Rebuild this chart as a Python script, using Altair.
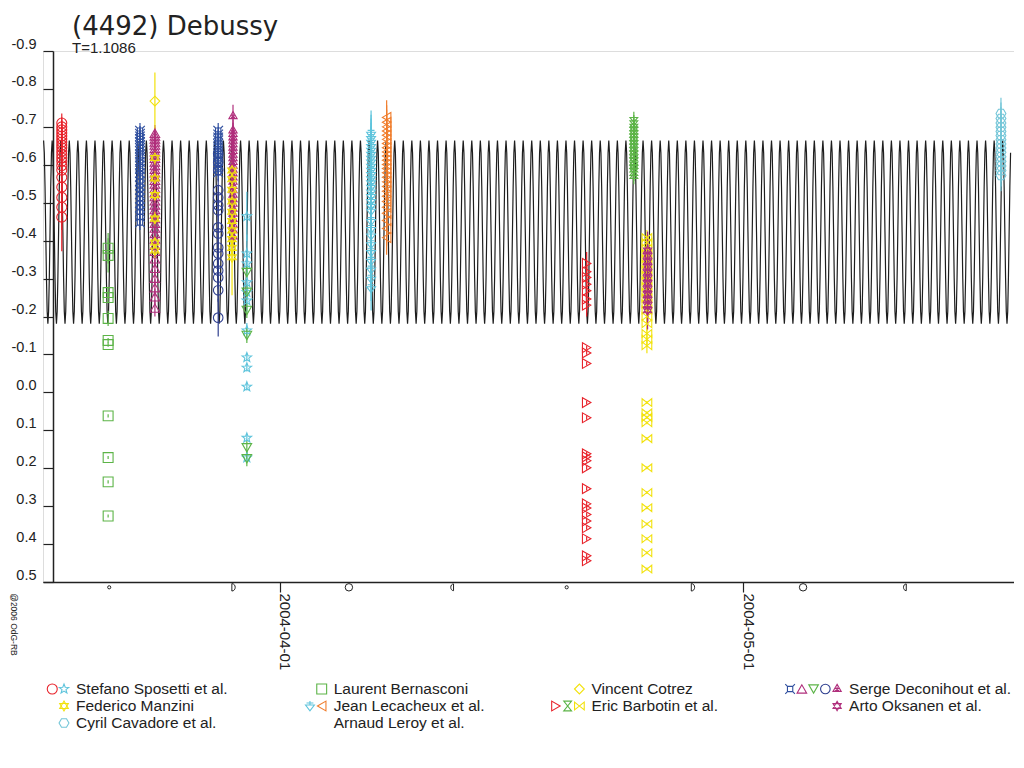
import math
import pandas as pd
import altair as alt

TITLE = "(4492) Debussy"
SUBTITLE = "T=1.1086"
COPYRIGHT = "@2006 OdG-RB"

# ---------------- series (observer / symbol) ----------------
series_ids = ["sposetti_circle", "sposetti_star", "manzini", "cavadore", "bernasconi",
              "lecacheux_cyan", "lecacheux_orange", "cotrez", "barbotin_red", "barbotin_green",
              "barbotin_yellow", "deco_blue_hash", "deco_mag_tri", "deco_green_tri",
              "deco_blue_circle", "deco_mag_startri", "oksanen"]
series_colors = ["#e8232b", "#5ec4dc", "#f2e20c", "#74c6d8", "#5cb447",
                 "#5ec4dc", "#f07d2c", "#f2e20c", "#e8232b", "#5cb447",
                 "#f2e20c", "#2f4f9f", "#b02f7c", "#5cb447",
                 "#2f3f8f", "#b02f7c", "#b02f7c"]


def polygon(n, rot):
    pts = []
    for k in range(n):
        a = math.radians(rot + 360.0 * k / n)
        pts.append(f"{math.cos(a):.3f},{math.sin(a):.3f}")
    return "M" + " L".join(pts) + " Z"


def star(n, inner):
    pts = []
    for k in range(2 * n):
        r = 1.0 if k % 2 == 0 else inner
        a = math.radians(-90 + 180.0 * k / n)
        pts.append(f"{r * math.cos(a):.3f},{r * math.sin(a):.3f}")
    return "M" + " L".join(pts) + " Z"


STAR5 = star(5, 0.42)
HEXAGRAM = polygon(3, -90) + " " + polygon(3, 90)
HEXAGON = polygon(6, 0)
HASHBOX = ("M-0.55,-0.55 L0.55,-0.55 L0.55,0.55 L-0.55,0.55 Z "
           "M-1,-1 L-0.55,-0.55 M1,-1 L0.55,-0.55 M1,1 L0.55,0.55 M-1,1 L-0.55,0.55")
TRI_STAR = polygon(3, -90) + " M0,-0.45 L0,0.45 M-0.4,-0.15 L0.4,0.3 M0.4,-0.15 L-0.4,0.3"
HOURGLASS = "M-0.8,-1 L0.8,-1 L-0.8,1 L0.8,1 Z"
BOWTIE = "M-1,-0.8 L1,0.8 L1,-0.8 L-1,0.8 Z"
TRI_DOWN_BAR = "M-0.9,-0.2 L0.9,-0.2 L0,1 Z M0,-1 L0,-0.2 M-0.7,-0.6 L0.7,-0.6"

series_shapes = ["circle", STAR5, HEXAGRAM, HEXAGON, "square",
                 TRI_DOWN_BAR, "triangle-left", "diamond", "triangle-right", HOURGLASS,
                 BOWTIE, HASHBOX, "triangle-up", "triangle-down",
                 "circle", TRI_STAR, HEXAGRAM]
series_sizes = [100, 90, 80, 80, 45,
                80, 60, 100, 70, 64,
                70, 64, 70, 70,
                85, 80, 75]

# ---------------- observations (date, magnitudes, errors) ----------------
sposetti_circle_time = "2004-03-17T21:00"
sposetti_circle_mag = [-0.710, -0.700, -0.692, -0.684, -0.676, -0.668, -0.660, -0.652, -0.645, -0.636,
                       -0.627, -0.618, -0.609, -0.598, -0.586, -0.567, -0.541, -0.514, -0.488, -0.462]
sposetti_circle_err = [0.025] * 17 + [0.05, 0.06, 0.09]

bernasconi_time = "2004-03-20T21:00"
bernasconi_mag = [-0.380, -0.361, -0.263, -0.250, -0.195, -0.137, -0.126, 0.062, 0.172, 0.236, 0.326]
bernasconi_err = [0.04, 0.045, 0.012, 0.012, 0.02, 0.006, 0.006, 0.004, 0.004, 0.004, 0.004]

deco_hash1_time = "2004-03-22T22:30"
deco_hash1_mag = [-0.690, -0.682, -0.675, -0.668, -0.660, -0.651, -0.644, -0.636, -0.627, -0.619,
                  -0.608, -0.598, -0.589, -0.578, -0.569, -0.556, -0.545, -0.534, -0.523, -0.511,
                  -0.499, -0.488, -0.476, -0.463, -0.448]
deco_hash1_err = 0.02

deco_tri_time = "2004-03-23T21:40"
deco_tri_mag = [-0.683, -0.676, -0.668, -0.660, -0.652, -0.643, -0.634, -0.626, -0.617, -0.607,
                -0.598, -0.588, -0.579, -0.569, -0.559, -0.549, -0.538, -0.527, -0.516, -0.505,
                -0.494, -0.482, -0.470, -0.458, -0.446, -0.433, -0.419, -0.404, -0.388, -0.372,
                -0.352, -0.327, -0.301, -0.276, -0.252, -0.222]
deco_tri_err = 0.022

manzini1_time = "2004-03-23T21:40"
manzini1_mag = [-0.618, -0.564, -0.520, -0.458, -0.395, -0.374]
manzini1_err = 0.02

cotrez_time = "2004-03-23T21:40"
cotrez_mag = [-0.768]
cotrez_err = 0.075

deco_circle_time = "2004-03-28T00:00"
deco_circle_mag = [-0.630, -0.607, -0.586, -0.533, -0.514, -0.493, -0.480, -0.435, -0.419, -0.382,
                   -0.366, -0.340, -0.321, -0.303, -0.269, -0.197]
deco_circle_err = [0.03] * 15 + [0.05]

deco_hash2_time = "2004-03-28T00:00"
deco_hash2_mag = [-0.690, -0.680, -0.672, -0.664, -0.655, -0.646, -0.637, -0.628, -0.619, -0.610,
                  -0.600, -0.590, -0.580]
deco_hash2_err = 0.02

deco_startri_time = "2004-03-28T23:00"
deco_startri_mag = [-0.728, -0.690, -0.681, -0.672, -0.663, -0.654, -0.645, -0.636, -0.626, -0.617,
                    -0.607, -0.597, -0.587, -0.577, -0.566, -0.555, -0.544, -0.533, -0.521, -0.509,
                    -0.497, -0.484, -0.471, -0.457, -0.442, -0.427, -0.411]
deco_startri_err = 0.03

manzini2_time = "2004-03-28T21:30"
manzini2_mag = [-0.585, -0.562, -0.534, -0.503, -0.476, -0.452, -0.427, -0.404, -0.381, -0.356]
manzini2_err = [0.03] * 9 + [0.1]

sposetti_star_time = "2004-03-29T20:30"
sposetti_star_mag = [-0.464, -0.366, -0.340, -0.290, -0.264, -0.242, -0.163, -0.092, -0.065, -0.015,
                     0.120, 0.172]
sposetti_star_err = [0.065, 0.05, 0.03, 0.03, 0.03, 0.03, 0.02, 0.01, 0.01, 0.01, 0.008, 0.008]

deco_green_time = "2004-03-29T20:30"
deco_green_mag = [-0.316, -0.264, -0.216, -0.150, 0.146, 0.175]
deco_green_err = 0.02

lecacheux_cyan_time = "2004-04-06T21:30"
lecacheux_cyan_mag = [-0.683, -0.672, -0.662, -0.651, -0.641, -0.630, -0.620, -0.610, -0.599, -0.588,
                      -0.577, -0.566, -0.555, -0.543, -0.531, -0.519, -0.506, -0.493, -0.480, -0.453,
                      -0.432, -0.415, -0.392, -0.371, -0.348, -0.325, -0.301, -0.276]
lecacheux_cyan_err = 0.06

lecacheux_orange_time = "2004-04-07T21:40"
lecacheux_orange_mag = [-0.725, -0.712, -0.700, -0.689, -0.678, -0.667, -0.656, -0.645, -0.634, -0.623,
                        -0.612, -0.601, -0.590, -0.579, -0.567, -0.555, -0.543, -0.530, -0.517, -0.503,
                        -0.488, -0.472, -0.453, -0.432, -0.408]
lecacheux_orange_err = 0.045

barbotin_red_time = "2004-04-20T20:24"
barbotin_red_mag = [-0.340, -0.318, -0.303, -0.285, -0.268, -0.246, -0.230, -0.118, -0.104, -0.076,
                    0.027, 0.067, 0.162, 0.170, 0.180, 0.199, 0.254, 0.294, 0.305, 0.322,
                    0.339, 0.357, 0.386, 0.431, 0.444]
barbotin_red_err = [0.03] * 7 + [0.005] * 18

barbotin_green_time = "2004-04-23T21:40"
barbotin_green_mag = [-0.712, -0.703, -0.694, -0.686, -0.677, -0.668, -0.659, -0.650, -0.641, -0.632,
                      -0.623, -0.613, -0.604, -0.594, -0.585, -0.577]
barbotin_green_err = 0.028

barbotin_yellow_time = "2004-04-24T18:00"
barbotin_yellow_mag = [-0.408, -0.395, -0.380, -0.366, -0.352, -0.338, -0.323, -0.309, -0.294, -0.279,
                       -0.264, -0.249, -0.233, -0.217, -0.200, -0.181, -0.155, -0.140, -0.123, 0.027,
                       0.054, 0.066, 0.080, 0.122, 0.199, 0.264, 0.304, 0.347, 0.386, 0.423, 0.466]
barbotin_yellow_err = [0.02] * 19 + [0.004] * 12

oksanen_time = "2004-04-24T19:00"
oksanen_mag = [-0.374, -0.360, -0.345, -0.331, -0.316, -0.301, -0.287, -0.272, -0.258, -0.244,
               -0.230, -0.216]
oksanen_err = 0.05

cavadore_time = "2004-05-17T16:00"
cavadore_mag = [-0.735, -0.722, -0.710, -0.699, -0.688, -0.677, -0.666, -0.655, -0.644, -0.633,
                -0.621, -0.609, -0.597, -0.585, -0.572]
cavadore_err = 0.042

observations = [
    ("sposetti_circle", sposetti_circle_time, sposetti_circle_mag, sposetti_circle_err),
    ("bernasconi", bernasconi_time, bernasconi_mag, bernasconi_err),
    ("deco_blue_hash", deco_hash1_time, deco_hash1_mag, deco_hash1_err),
    ("deco_mag_tri", deco_tri_time, deco_tri_mag, deco_tri_err),
    ("manzini", manzini1_time, manzini1_mag, manzini1_err),
    ("cotrez", cotrez_time, cotrez_mag, cotrez_err),
    ("deco_blue_circle", deco_circle_time, deco_circle_mag, deco_circle_err),
    ("deco_blue_hash", deco_hash2_time, deco_hash2_mag, deco_hash2_err),
    ("deco_mag_startri", deco_startri_time, deco_startri_mag, deco_startri_err),
    ("manzini", manzini2_time, manzini2_mag, manzini2_err),
    ("sposetti_star", sposetti_star_time, sposetti_star_mag, sposetti_star_err),
    ("deco_green_tri", deco_green_time, deco_green_mag, deco_green_err),
    ("lecacheux_cyan", lecacheux_cyan_time, lecacheux_cyan_mag, lecacheux_cyan_err),
    ("lecacheux_orange", lecacheux_orange_time, lecacheux_orange_mag, lecacheux_orange_err),
    ("barbotin_red", barbotin_red_time, barbotin_red_mag, barbotin_red_err),
    ("barbotin_green", barbotin_green_time, barbotin_green_mag, barbotin_green_err),
    ("barbotin_yellow", barbotin_yellow_time, barbotin_yellow_mag, barbotin_yellow_err),
    ("oksanen", oksanen_time, oksanen_mag, oksanen_err),
    ("cavadore", cavadore_time, cavadore_mag, cavadore_err),
]

rows = []
for sid, t, mags, errs in observations:
    if not isinstance(errs, list):
        errs = [errs] * len(mags)
    for m, e in zip(mags, errs):
        rows.append({"series": sid, "time": t, "mag": m, "lo": m - e, "hi": m + e})
obs_df = pd.DataFrame(rows)

# ---------------- model lightcurve (period T, read profile of one half period) ----------------
model_period = 1.1086  # days
model_epoch = "2004-04-08T23:30"
model_profile = [-0.664, -0.632, -0.543, -0.423, -0.302, -0.213, -0.181, -0.213, -0.302, -0.423, -0.543, -0.632]

x_start = pd.Timestamp("2004-03-16T15:50")
x_end = pd.Timestamp("2004-05-18T12:15")
curve_end = pd.Timestamp("2004-05-18T08:00")
epoch = pd.Timestamp(model_epoch)
step_days = model_period / 2 / len(model_profile)
k0 = math.floor((x_start - epoch).total_seconds() / 86400 / step_days)
k1 = math.ceil((curve_end - epoch).total_seconds() / 86400 / step_days)
curve_rows = []
for k in range(k0, k1 + 1):
    t = epoch + pd.Timedelta(days=k * step_days)
    if x_start <= t <= curve_end:
        curve_rows.append({"time": t.strftime("%Y-%m-%dT%H:%M:%S"),
                           "mag": model_profile[k % len(model_profile)]})
curve_df = pd.DataFrame(curve_rows)

# ---------------- moon phases ----------------
new_moons = ["2004-03-20T22:41", "2004-04-19T13:21"]
first_quarters = ["2004-03-28T23:48", "2004-04-27T17:32"]
full_moons = ["2004-04-05T11:03", "2004-05-04T20:33"]
last_quarters = ["2004-04-12T03:46", "2004-05-11T11:04"]
MOON_ROW = 0.514

# ---------------- legend ----------------
legend_labels = ["Stefano Sposetti et al.", "Federico Manzini", "Cyril Cavadore et al.",
                 "Laurent Bernasconi", "Jean Lecacheux et al.", "Arnaud Leroy et al.",
                 "Vincent Cotrez", "Eric Barbotin et al.",
                 "Serge Deconihout et al.", "Arto Oksanen et al."]
legend_col = [0, 0, 0, 1, 1, 1, 2, 2, 3, 3]
legend_row = [0, 1, 2, 0, 1, 2, 0, 1, 0, 1]
legend_symbols = [["sposetti_circle", "sposetti_star"], ["manzini"], ["cavadore"],
                  ["bernasconi"], ["lecacheux_cyan", "lecacheux_orange"], [],
                  ["cotrez"], ["barbotin_red", "barbotin_green", "barbotin_yellow"],
                  ["deco_blue_hash", "deco_mag_tri", "deco_green_tri", "deco_blue_circle", "deco_mag_startri"],
                  ["oksanen"]]

leg_text_df = pd.DataFrame({"label": legend_labels, "col": legend_col, "row": legend_row})
sym_rows = []
for lab, c, r, syms in zip(legend_labels, legend_col, legend_row, legend_symbols):
    n = len(syms)
    for j, s in enumerate(syms):
        sym_rows.append({"series": s, "col": c, "row": r, "slot": n - 1 - j})
leg_sym_df = pd.DataFrame(sym_rows)

# legend layout (pixels): column spacing and symbol spacing
LEG_COL_PX = 257.7
LEG_SYM_GAP = 12.0
LEG_SYM_STEP = 11.75

# ---------------- scales & axes ----------------
FONT = "Liberation Sans"
INK = "#222222"

x_scale = alt.Scale(domain=[alt.DateTime(year=2004, month=3, date=16, hours=15, minutes=50),
                            alt.DateTime(year=2004, month=5, date=18, hours=12, minutes=15)])
y_scale = alt.Scale(domain=[-0.9, 0.5], reverse=True, zero=False, nice=False)

y_ticks = [round(-0.9 + 0.1 * i, 1) for i in range(15)]

x_axis = alt.Axis(values=[alt.DateTime(year=2004, month=4, date=1), alt.DateTime(year=2004, month=5, date=1)],
                  format="%Y-%m-%d", labelAngle=90, labelAlign="left", labelBaseline="alphabetic",
                  labelPadding=1, labelFontSize=15, labelFont=FONT, labelColor=INK,
                  tickSize=10, tickColor=INK, tickWidth=1.2, domainColor=INK, domainWidth=1.5,
                  grid=False, title=None, labelOverlap=False, labelFlush=False)
y_axis = alt.Axis(values=y_ticks, labelExpr="replace(format(datum.value, '.1f'), '\u2212', '-')",
                  offset=-10, tickSize=10, tickColor=INK, tickWidth=1.2, domainColor=INK, domainWidth=1.5,
                  labelPadding=7, labelFontSize=14.5, labelFont=FONT, labelColor=INK,
                  labelBaseline="alphabetic", labelOffset=-3, grid=False,
                  labelOverlap=False, labelFlush=False,
                  title=COPYRIGHT, titleAngle=90, titleX=-40, titleY=573, titleFontSize=8.5,
                  titleFont=FONT, titleFontWeight="normal", titleColor=INK,
                  titleAlign="center", titleBaseline="middle")

X = alt.X("time:T", scale=x_scale, axis=x_axis)
Y = alt.Y("mag:Q", scale=y_scale, axis=y_axis)
color_enc = alt.Color("series:N", scale=alt.Scale(domain=series_ids, range=series_colors), legend=None)
shape_enc = alt.Shape("series:N", scale=alt.Scale(domain=series_ids, range=series_shapes), legend=None)
size_enc = alt.Size("series:N", scale=alt.Scale(domain=series_ids, range=series_sizes), legend=None)

curve = alt.Chart(curve_df).mark_line(color="#1e1e1e", strokeWidth=1.2).encode(x=X, y=Y)

moon_layers = []
for times, shape, size in [
    (new_moons, "circle", 10),
    (first_quarters, "M-0.45,-1 L-0.45,1 C0.75,1 0.75,-1 -0.45,-1 Z", 55),
    (full_moons, "circle", 55),
    (last_quarters, "M0.35,-1 L0.35,1 C-0.75,1 -0.75,-1 0.35,-1 Z", 45),
]:
    moon_layers.append(
        alt.Chart(pd.DataFrame({"time": times})).mark_point(
            shape=shape, size=size, filled=False, color=INK, strokeWidth=1, opacity=1
        ).encode(x=X, y=alt.Y(datum=MOON_ROW, scale=y_scale, axis=y_axis))
    )

errbars = alt.Chart(obs_df).mark_rule(strokeWidth=1.2).encode(
    x=X, y=alt.Y("lo:Q", scale=y_scale, axis=y_axis), y2="hi:Q", color=color_enc)

points = alt.Chart(obs_df).mark_point(filled=False, strokeWidth=1.1, opacity=1).encode(
    x=X, y=Y, color=color_enc, shape=shape_enc, size=size_enc)

main = alt.layer(curve, *moon_layers, errbars, points)

leg_scale_x = alt.Scale(domain=[0, 3], range=[33, 33 + 3 * LEG_COL_PX], zero=False, nice=False)
leg_y = alt.Y("row:Q", scale=alt.Scale(domain=[0, 2], range=[638, 672], zero=False, nice=False), axis=None)

leg_syms = alt.Chart(leg_sym_df).transform_calculate(
    pos=f"datum.col - ({LEG_SYM_GAP} + {LEG_SYM_STEP} * datum.slot) / {LEG_COL_PX}"
).mark_point(filled=False, strokeWidth=1.1, opacity=1).encode(
    x=alt.X("pos:Q", scale=leg_scale_x, axis=None), y=leg_y,
    color=color_enc, shape=shape_enc, size=size_enc)
leg_text = alt.Chart(leg_text_df).mark_text(align="left", baseline="middle", font=FONT,
                                            fontSize=15.5, color=INK).encode(
    x=alt.X("col:Q", scale=leg_scale_x, axis=None), y=leg_y, text="label:N")

legend = alt.layer(leg_syms, leg_text)

chart = alt.layer(main, legend).resolve_scale(x="independent", y="independent").properties(
    width=971, height=531,
    padding={"left": 35, "top": 43, "right": 0, "bottom": 180},
    autosize=alt.AutoSizeParams(type="none"),
    title=alt.TitleParams(text=TITLE, subtitle=SUBTITLE, anchor="start", frame="group",
                          orient="top", dx=29, offset=-20, font="DejaVu Sans", fontSize=26,
                          fontWeight="normal", color=INK, subtitleFont=FONT, subtitleFontSize=15,
                          subtitleColor=INK, subtitlePadding=1),
).configure_view(strokeWidth=0, stroke="transparent").configure_axis(grid=False).configure(
    background="white")

chart.save("out.html", embed_options={"renderer": "svg", "actions": False})
